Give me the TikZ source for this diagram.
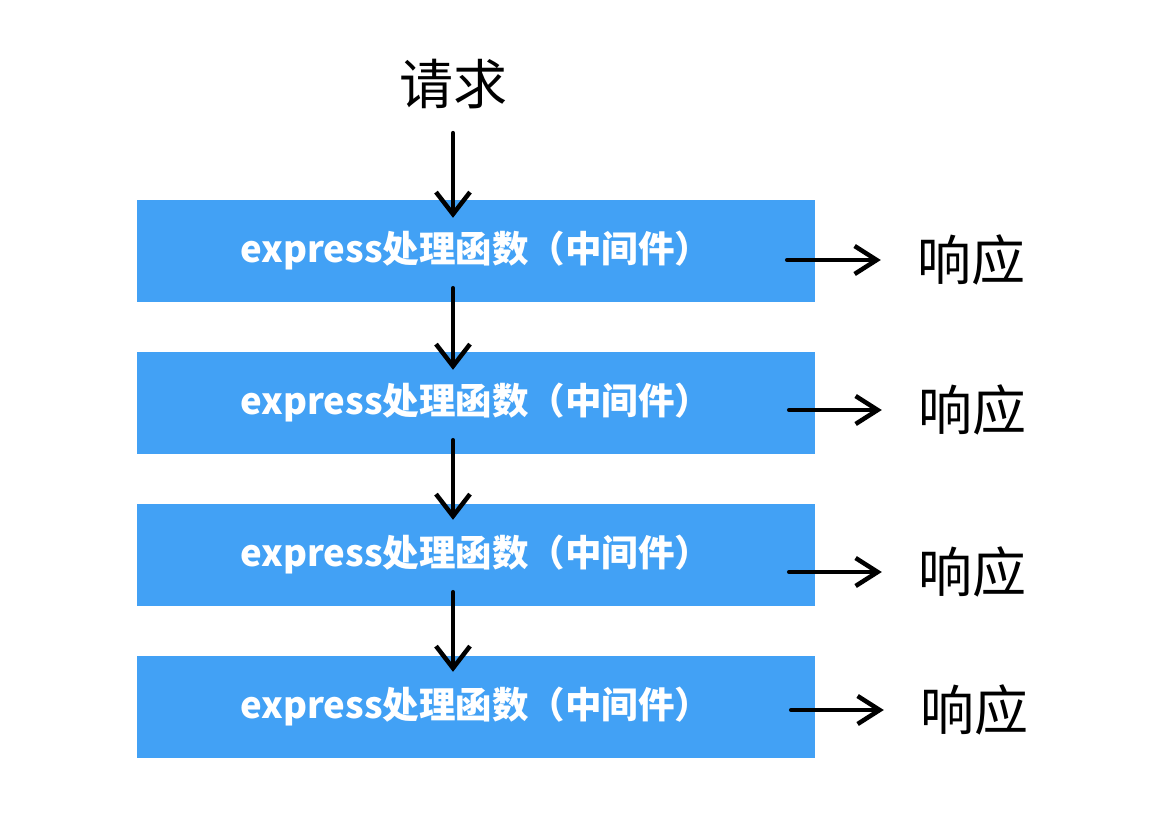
\documentclass[tikz,border=0pt]{standalone}
\usepackage{fontspec}
\setmainfont{Noto Sans CJK SC}
\usetikzlibrary{arrows.meta}
\definecolor{boxblue}{HTML}{42A1F5}
\tikzset{
  mwbox/.style={fill=boxblue, draw=none, minimum width=678pt, minimum height=102pt, inner sep=0pt,
    text=white, font=\fontsize{36.5}{42}\selectfont\bfseries},
  bigtext/.style={font=\fontsize{54}{60}\selectfont, inner sep=0pt, text=black},
  sketchv/.style={line width=4.5pt, line cap=round, -{Straight Barb[length=22pt,width=34pt,line width=4.5pt]}},
  sketchh/.style={line width=4.5pt, line cap=round, -{Straight Barb[length=22pt,width=28pt,line width=4.5pt]}},
}
\begin{document}
\begin{tikzpicture}[x=1pt,y=-1pt]
\useasboundingbox (0,0) rectangle (1150,830);
\node[bigtext] (req) at (453,84) {请求};
\node[mwbox] (b1) at (476,251) {express处理函数（中间件）};
\node[mwbox] (b2) at (476,403) {express处理函数（中间件）};
\node[mwbox] (b3) at (476,555) {express处理函数（中间件）};
\node[mwbox] (b4) at (476,707) {express处理函数（中间件）};
\node[bigtext] (r1) at (971,260) {响应};
\node[bigtext] (r2) at (972,410) {响应};
\node[bigtext] (r3) at (972,572) {响应};
\node[bigtext] (r4) at (974,710) {响应};
\draw[sketchv] ([yshift=-24pt]req.south) -- ([xshift=-23pt,yshift=-18pt]b1.north);
\draw[sketchv] ([xshift=-23pt,yshift=14pt]b1.south) -- ([xshift=-23pt,yshift=-18pt]b2.north);
\draw[sketchv] ([xshift=-23pt,yshift=14pt]b2.south) -- ([xshift=-23pt,yshift=-16pt]b3.north);
\draw[sketchv] ([xshift=-23pt,yshift=14pt]b3.south) -- ([xshift=-23pt,yshift=-16pt]b4.north);
\draw[sketchh] ([xshift=-28pt]b1.east |- r1) -- ([xshift=-36pt]r1.west);
\draw[sketchh] ([xshift=-26pt]b2.east |- r2) -- ([xshift=-36pt]r2.west);
\draw[sketchh] ([xshift=-26pt]b3.east |- r3) -- ([xshift=-36pt]r3.west);
\draw[sketchh] ([xshift=-24pt]b4.east |- r4) -- ([xshift=-36pt]r4.west);
\end{tikzpicture}
\end{document}
